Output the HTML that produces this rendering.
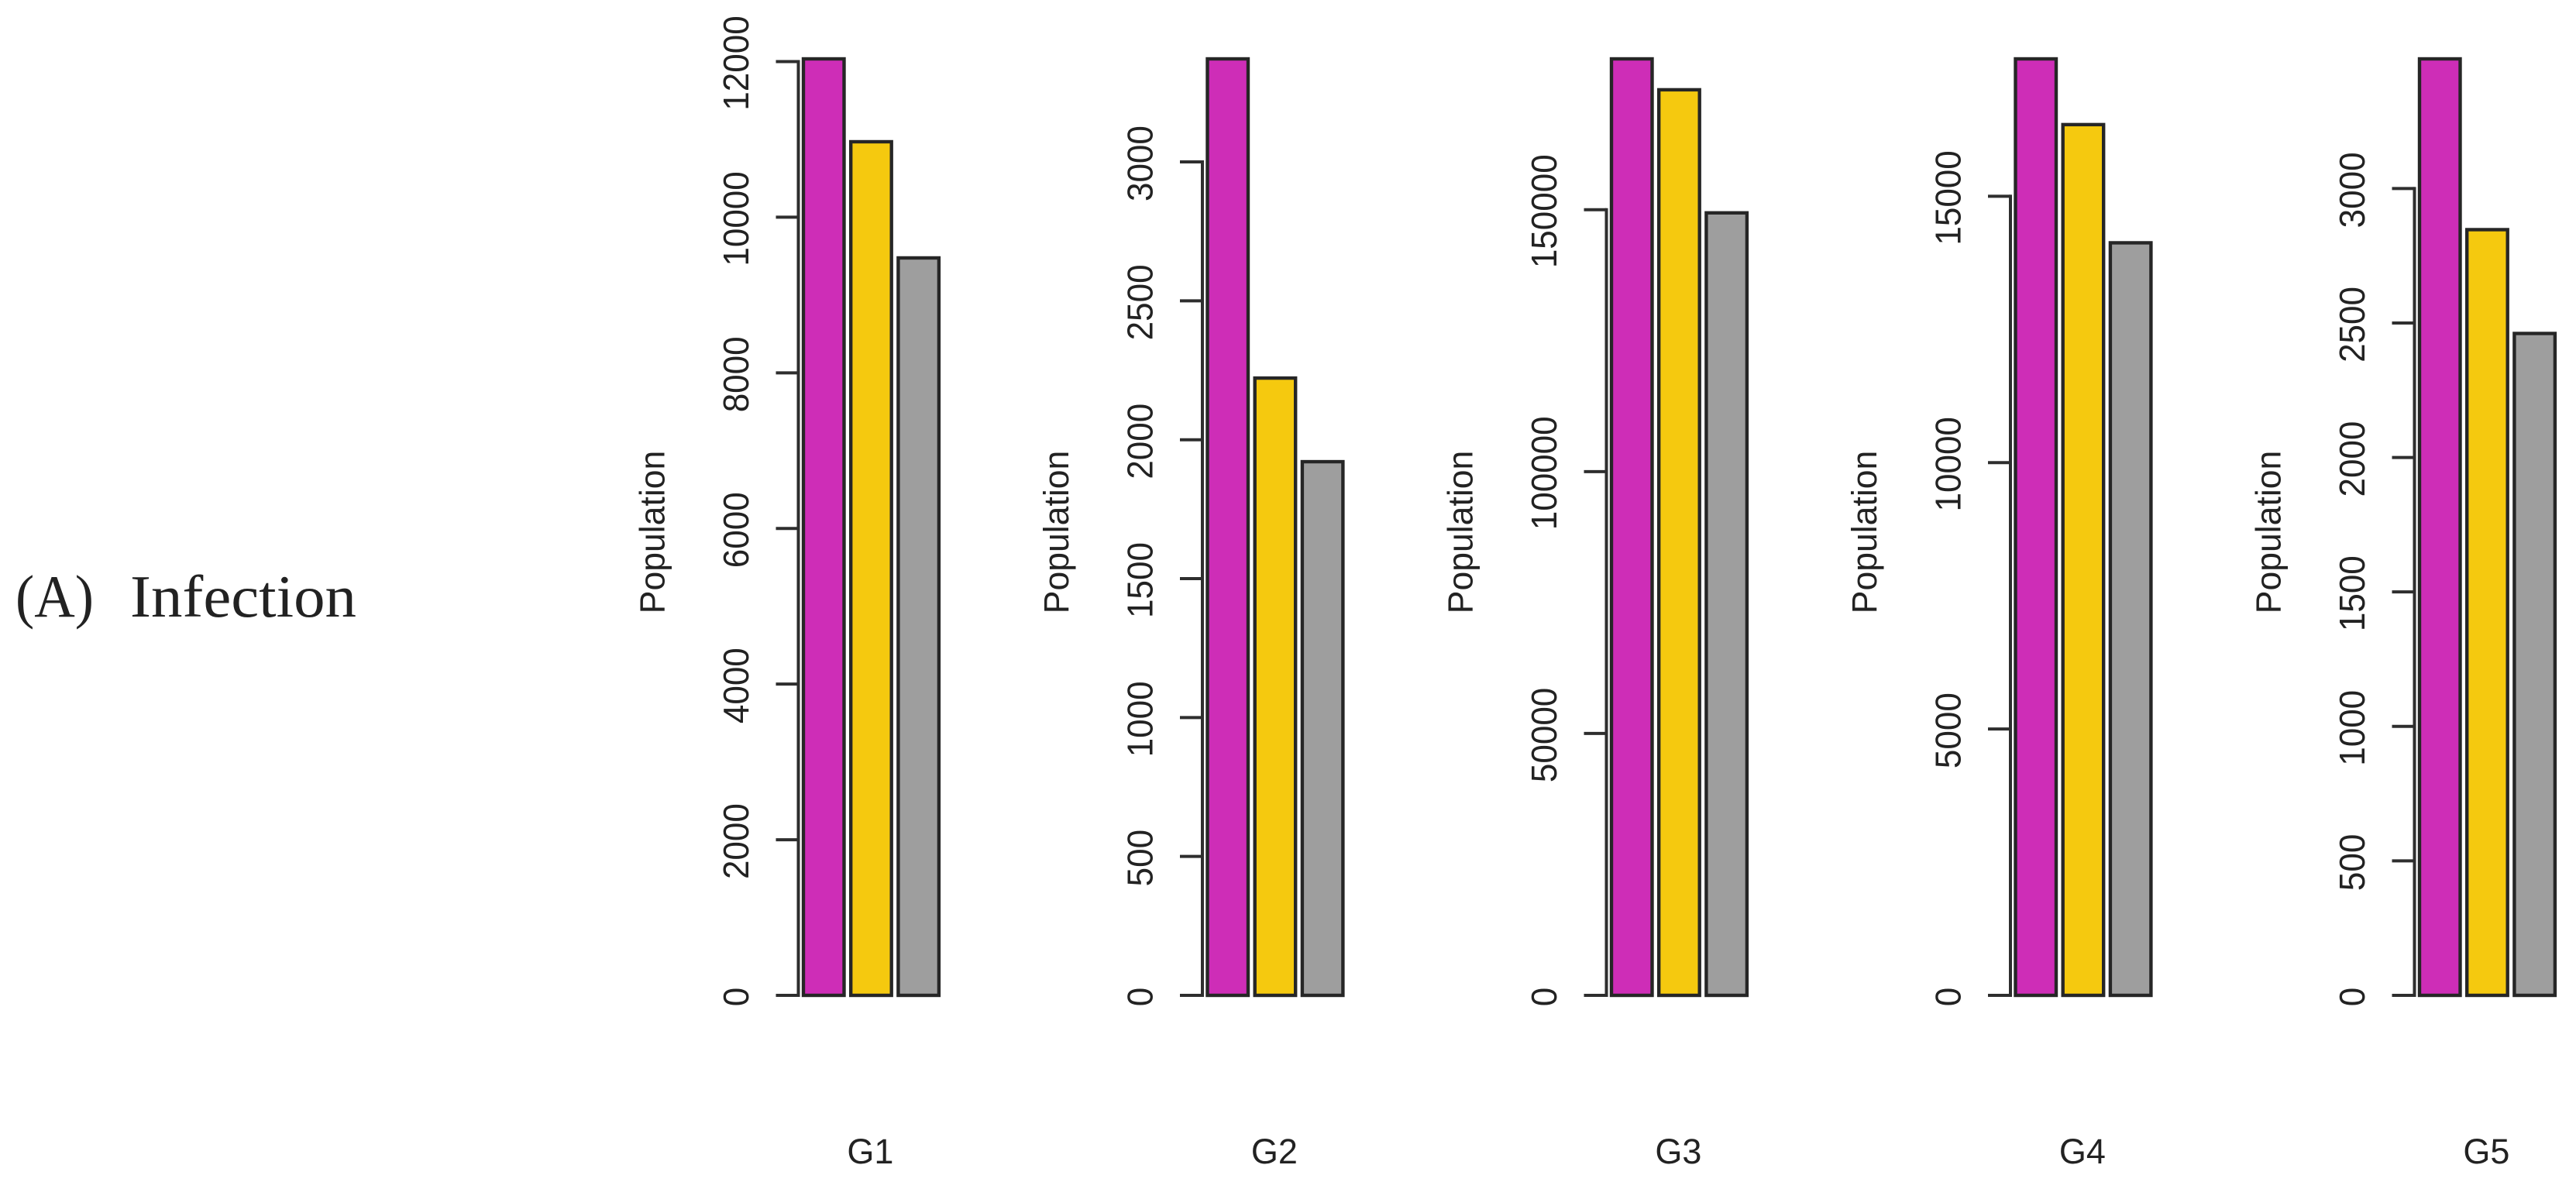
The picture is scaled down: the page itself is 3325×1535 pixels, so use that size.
<!DOCTYPE html>
<html lang="en">
<head>
<meta charset="utf-8">
<title>Infection population by group</title>
<style>
html,body{margin:0;padding:0;background:#fff;width:3325px;height:1535px;overflow:hidden}
svg{display:block}
text{font-family:"Liberation Sans",sans-serif;fill:#222}
</style>
</head>
<body>
<svg id="figure" xmlns="http://www.w3.org/2000/svg" width="3325" height="1535" viewBox="0 0 3325 1535">
  <rect x="0" y="0" width="3325" height="1535" fill="#ffffff"/>
  <g>
    <text x="20" y="796" font-size="77.5" textLength="101" lengthAdjust="spacingAndGlyphs" style="font-family:'Liberation Serif',serif">(A)</text>
    <text x="168" y="796" font-size="77.5" textLength="292" lengthAdjust="spacingAndGlyphs" style="font-family:'Liberation Serif',serif">Infection</text>
  </g>
</svg>
<script>
const groups = ['G1', 'G2', 'G3', 'G4', 'G5'];
const series1 = [12035, 3371, 178800, 17580, 3482];
const series2 = [10970, 2222, 172900, 16346, 2847];
const series3 = [9477, 1921, 149400, 14127, 2461];
const axisTop = [12035, 3371, 178800, 17580, 3482];
const ticksG1 = [0, 2000, 4000, 6000, 8000, 10000, 12000];
const ticksG2 = [0, 500, 1000, 1500, 2000, 2500, 3000];
const ticksG3 = [0, 50000, 100000, 150000];
const ticksG4 = [0, 5000, 10000, 15000];
const ticksG5 = [0, 500, 1000, 1500, 2000, 2500, 3000];
const yAxisTitle = 'Population';

const allTicks = [ticksG1, ticksG2, ticksG3, ticksG4, ticksG5];
const allSeries = [series1, series2, series3];
const seriesColors = ['#ce2db7', '#f5c90f', '#9e9e9e'];
const seriesNames = ['purple', 'yellow', 'gray'];

const NS = 'http://www.w3.org/2000/svg';
const svg = document.getElementById('figure');
const BASE_Y = 1285, TOP_Y = 76;

function axisX(p) { return 1030.5 + p * 521.5; }
function yScale(p, v) { return BASE_Y - (v / axisTop[p]) * (BASE_Y - TOP_Y); }
function barX(p, s) { return axisX(p) + 6.5 + s * 61.2; }
const BAR_W = 52.5;

function make(tag, attrs, parent) {
  const el = document.createElementNS(NS, tag);
  for (const k in attrs) el.setAttribute(k, attrs[k]);
  parent.appendChild(el);
  return el;
}

groups.forEach(function (group, p) {
  const g = make('g', {}, svg);
  
  

  const ticks = allTicks[p];
  const ax = axisX(p);

  const axisLine = make('line', {
    x1: ax, x2: ax,
    y1: yScale(p, ticks[ticks.length - 1]) - 2, y2: yScale(p, 0) + 2,
    stroke: '#2e2e2e', 'stroke-width': 4
  }, g);
  
  

  ticks.forEach(function (t) {
    const yy = yScale(p, t);
    const tick = make('line', {
      x1: ax - 29, x2: ax, y1: yy, y2: yy,
      stroke: '#2e2e2e', 'stroke-width': 4
    }, g);
    
    

    const label = make('text', {
      transform: 'translate(' + (ax - 64.5) + ',' + (yy + 2) + ') rotate(-90) scale(0.957,1)',
      'text-anchor': 'middle',
      'font-size': 46
    }, g);
    label.textContent = String(t);
    
    
  });

  allSeries.forEach(function (vals, s) {
    const top = yScale(p, vals[p]);
    const bar = make('rect', {
      x: barX(p, s), y: top,
      width: BAR_W, height: BASE_Y - top,
      fill: seriesColors[s], stroke: '#262626', 'stroke-width': 4.4
    }, g);
    
    
  });

  const yTitle = make('text', {
    transform: 'translate(' + (ax - 173) + ',687) rotate(-90) scale(0.99,1)',
    'text-anchor': 'middle',
    'font-size': 45
  }, g);
  yTitle.textContent = yAxisTitle;
  
  

  const xLabel = make('text', {
    x: barX(p, 1) + BAR_W / 2 - 1, y: 1502,
    'text-anchor': 'middle',
    'font-size': 45
  }, g);
  xLabel.textContent = group;
  
  
});
</script>
</body>
</html>
